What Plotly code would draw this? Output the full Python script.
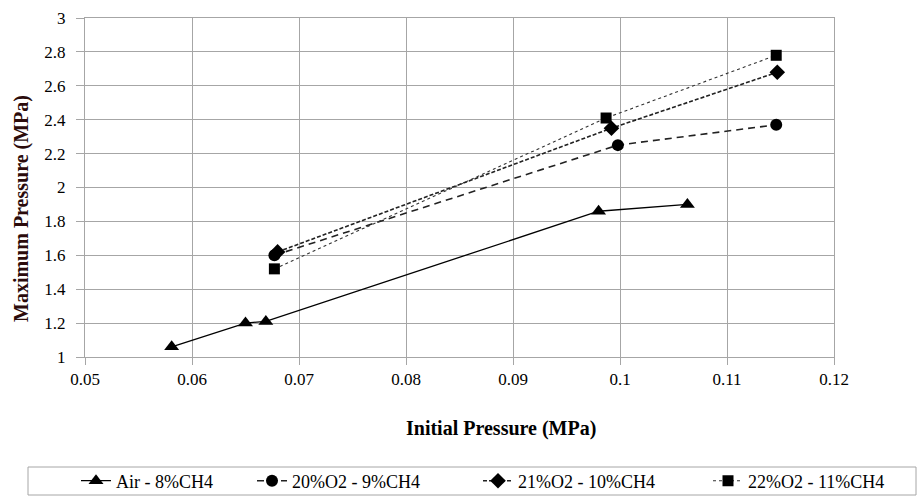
import plotly.graph_objects as go

air_x = [0.0581, 0.0650, 0.0669, 0.0980, 0.1063]
air_y = [1.06, 1.20, 1.21, 1.86, 1.90]
o20_x = [0.0677, 0.0998, 0.1146]
o20_y = [1.60, 2.25, 2.37]
o21_x = [0.0680, 0.0992, 0.1147]
o21_y = [1.62, 2.35, 2.68]
o22_x = [0.0677, 0.0987, 0.1146]
o22_y = [1.52, 2.41, 2.78]

names = ["Air - 8%CH4", "20%O2 - 9%CH4", "21%O2 - 10%CH4", "22%O2 - 11%CH4"]
x_ticks = [0.05, 0.06, 0.07, 0.08, 0.09, 0.10, 0.11, 0.12]
y_ticks = [1, 1.2, 1.4, 1.6, 1.8, 2, 2.2, 2.4, 2.6, 2.8, 3]
x_title = "Initial Pressure (MPa)"
y_title = "Maximum Pressure (MPa)"

font = "Liberation Serif, Times New Roman, serif"
grid = "#a6a6a6"

W, H = 921, 496
L, R, T, B = 85, 87, 18, 139
pw, ph = W - L - R, H - T - B

# left edges (px) of each legend entry's text in the reference
legend_text_x = [118, 294, 520, 750]
legend_ids = ["legend", "legend2", "legend3", "legend4"]

fig = go.Figure()
fig.add_trace(go.Scatter(x=air_x, y=air_y, name=names[0], mode="lines+markers",
                         legend=legend_ids[0],
                         line=dict(color="black", width=1.3),
                         marker=dict(symbol="triangle-up", size=13, color="black")))
fig.add_trace(go.Scatter(x=o20_x, y=o20_y, name=names[1], mode="lines+markers",
                         legend=legend_ids[1],
                         line=dict(color="#222222", width=1.6, dash="7px,5px"),
                         marker=dict(symbol="circle", size=12, color="black")))
fig.add_trace(go.Scatter(x=o21_x, y=o21_y, name=names[2], mode="lines+markers",
                         legend=legend_ids[2],
                         line=dict(color="#222222", width=1.6, dash="4px,2px"),
                         marker=dict(symbol="diamond", size=12, color="black")))
fig.add_trace(go.Scatter(x=o22_x, y=o22_y, name=names[3], mode="lines+markers",
                         legend=legend_ids[3],
                         line=dict(color="#333333", width=1.1, dash="dot"),
                         marker=dict(symbol="square", size=11, color="black")))

legend_layout = {}
for lid, tx in zip(legend_ids, legend_text_x):
    legend_layout[lid] = dict(
        orientation="h", xref="container", yref="container",
        x=(tx - 42) / W, xanchor="left", y=1 - 481 / H, yanchor="middle",
        font=dict(family=font, size=18, color="black"),
        bgcolor="rgba(0,0,0,0)", borderwidth=0)

fig.update_layout(
    width=W, height=H,
    margin=dict(l=L, r=R, t=T, b=B, autoexpand=False),
    paper_bgcolor="white", plot_bgcolor="white",
    font=dict(family=font, size=17, color="black"),
    showlegend=True,
    shapes=[dict(type="rect", xref="paper", yref="paper",
                 x0=(28 - L) / pw, x1=(916 - L) / pw,
                 y0=(H - B - 467) / ph, y1=(H - B - 495) / ph,
                 line=dict(color=grid, width=1), fillcolor="rgba(0,0,0,0)")],
    annotations=[
        dict(text="<b>" + x_title + "</b>", xref="paper", yref="paper",
             x=(501 - L) / pw, y=(H - B - 428) / ph, showarrow=False,
             xanchor="center", yanchor="middle",
             font=dict(family=font, size=20, color="black")),
        dict(text="<b>" + y_title + "</b>", xref="paper", yref="paper",
             x=(21 - L) / pw, y=(H - B - 209) / ph, showarrow=False, textangle=-90,
             xanchor="center", yanchor="middle",
             font=dict(family=font, size=20, color="#2b0b0b")),
    ],
    **legend_layout,
)
fig.update_xaxes(range=[0.05, 0.12], tickvals=x_ticks,
                 ticktext=[("%g" % v) for v in x_ticks],
                 showgrid=True, gridcolor=grid, gridwidth=1,
                 showline=True, linecolor=grid, linewidth=1, mirror=True,
                 ticks="outside", ticklen=7, tickcolor=grid, zeroline=False,
                 tickfont=dict(family=font, size=17, color="black"))
fig.update_yaxes(range=[1, 3], tickvals=y_ticks,
                 ticktext=[("%g" % v) for v in y_ticks],
                 showgrid=True, gridcolor=grid, gridwidth=1,
                 showline=True, linecolor=grid, linewidth=1, mirror=True,
                 ticks="outside", ticklen=8, tickcolor=grid, zeroline=False,
                 ticklabelstandoff=7,
                 tickfont=dict(family=font, size=17, color="black"))

fig.write_html("out.html")
